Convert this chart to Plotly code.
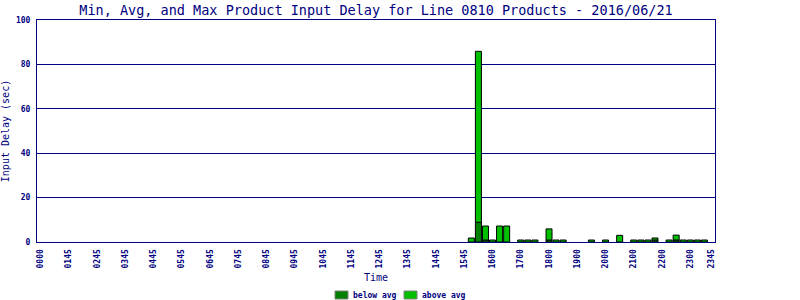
import plotly.graph_objects as go

# 15-minute slots of the day (index 0 = 0000 ... 95 = 2345); only non-empty slots listed
slots = [61, 62, 63, 64, 65, 66, 68, 69, 70, 72, 73, 74, 78, 80, 82, 84, 85, 86, 87, 89, 90, 91, 92, 93, 94]
below_avg = [0, 8.9, 0.9, 0, 0, 0, 0, 0, 0, 0.9, 0, 0, 0, 0, 0, 0, 0, 0, 0.9, 0, 0.9, 0, 0, 0, 0]
above_avg = [1.8, 77.0, 6.3, 0.9, 7.2, 7.2, 0.9, 0.9, 0.9, 5.0, 0.9, 0.9, 0.9, 0.9, 3.0, 0.9, 0.9, 0.9, 0.9, 0.9, 2.2, 0.9, 0.9, 0.9, 0.9]

tick_pos = [0, 4, 8, 12, 16, 20, 24, 28, 32, 36, 40, 44, 48, 52, 56, 60, 64, 68, 72, 76, 80, 84, 88, 92, 95]
tick_text = ["0000", "0145", "0245", "0345", "0445", "0545", "0645", "0745", "0845", "0945",
             "1045", "1145", "1245", "1345", "1445", "1545", "1600", "1700", "1800", "1900",
             "2000", "2100", "2200", "2300", "2345"]

series_names = ["below avg", "above avg"]
series_colors = ["#008000", "#00C000"]

NAVY = "#000080"
MONO = "DejaVu Sans Mono"

# plot area in pixels
L, R, T, B = 37, 715, 20, 242
W, H = R - L, B - T

def px(x):
    return (x - L) / W

def py(y):
    return (B - y) / H

below_x = [s for s, b in zip(slots, below_avg) if b > 0]
below_y = [b for b in below_avg if b > 0]

fig = go.Figure()
fig.add_trace(go.Bar(x=below_x, y=below_y, name=series_names[0], showlegend=False,
                     marker=dict(color=series_colors[0], line=dict(color="black", width=1))))
fig.add_trace(go.Bar(x=slots, y=above_avg, base=below_avg, name=series_names[1], showlegend=False,
                     marker=dict(color=series_colors[1], line=dict(color="black", width=1))))

# manual legend (small swatches with grey border, like the original)
shapes = []
annotations = []
legend_x = [335, 404]
for name, col, x0 in zip(series_names, series_colors, legend_x):
    shapes.append(dict(type="rect", xref="paper", yref="paper",
                       x0=px(x0), x1=px(x0 + 13), y0=py(299), y1=py(291),
                       fillcolor=col, line=dict(color="#808080", width=1)))
    annotations.append(dict(text=name, xref="paper", yref="paper", x=px(x0 + 16), y=py(295),
                            xanchor="left", yanchor="middle", showarrow=False,
                            font=dict(family=MONO, size=8, color=NAVY, weight="bold")))

fig.update_layout(
    width=800, height=300,
    margin=dict(l=L, r=800 - R, t=T, b=300 - B),
    plot_bgcolor="white", paper_bgcolor="white",
    barmode="overlay", bargap=0.15,
    title=dict(text="Min, Avg, and Max Product Input Delay for Line 0810 Products - 2016/06/21",
               font=dict(family=MONO, size=13.5, color=NAVY),
               x=376/800, xanchor="center", y=1 - 10/300, yanchor="middle", yref="container"),
    showlegend=False,
    shapes=shapes, annotations=annotations,
    xaxis=dict(range=[-0.5, 95.5], tickmode="array", tickvals=tick_pos, ticktext=tick_text,
               tickangle=-90, tickfont=dict(family=MONO, size=8, color=NAVY, weight="bold"),
               ticklabelstandoff=3, automargin=False,
               showgrid=False, showline=True, linecolor=NAVY, linewidth=1, mirror=True,
               ticks="", zeroline=False,
               title=dict(text="Time", font=dict(family=MONO, size=10, color=NAVY), standoff=6)),
    yaxis=dict(range=[0, 100], dtick=20, tickfont=dict(family=MONO, size=8, color=NAVY, weight="bold"),
               ticklabelstandoff=4, automargin=False,
               showgrid=True, gridcolor=NAVY, gridwidth=1, showline=True, linecolor=NAVY,
               linewidth=1, mirror=True, ticks="", zeroline=False,
               title=dict(text="Input Delay (sec)", font=dict(family=MONO, size=10, color=NAVY), standoff=6)),
)

fig.write_html("out.html")
